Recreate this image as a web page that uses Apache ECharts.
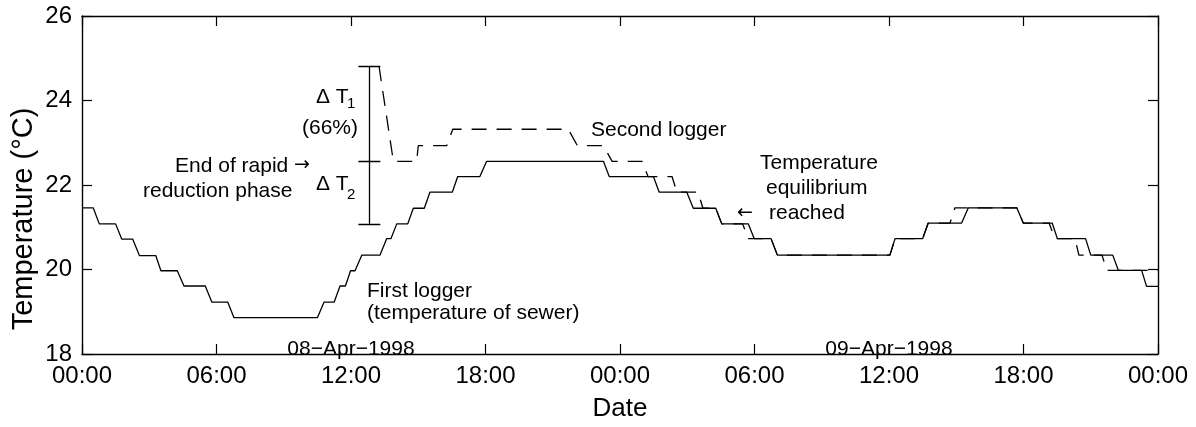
<!DOCTYPE html>
<html>
<head>
<meta charset="utf-8">
<script src="https://cdn.jsdelivr.net/npm/echarts@6/dist/echarts.min.js"></script>
<style>
  html, body { margin: 0; padding: 0; background: #fff; overflow: hidden; }
  #chart { width: 1196px; height: 427px; }
</style>
</head>
<body>
<div id="chart"></div>
<script>
// First logger (sewer temperature): hours since 08-Apr-1998 00:00, °C
const firstHours = [0, 0.50, 0.77, 1.50, 1.77, 2.26, 2.56, 3.29, 3.52, 4.25, 4.55, 5.50, 5.79, 6.50, 6.78,
  10.50, 10.80, 11.25, 11.51, 11.75, 11.98, 12.18, 12.48, 13.29, 13.59, 13.78, 14.04, 14.53, 14.78, 15.27,
  15.52, 16.52, 16.76, 17.75, 18.05, 23.26, 23.52, 25.49, 25.75, 26.98, 27.27, 28.27, 28.54, 29.72, 29.99,
  30.74, 31.02, 36.04, 36.27, 37.50, 37.75, 39.24, 39.54, 41.70, 41.99, 43.28, 43.51, 44.77, 45.00, 45.98,
  46.23, 47.27, 47.49, 48];
const firstTemps = [21.46, 21.46, 21.08, 21.08, 20.72, 20.72, 20.33, 20.33, 19.97, 19.97, 19.61, 19.61, 19.23, 19.23, 18.86,
  18.86, 19.23, 19.23, 19.61, 19.61, 19.97, 19.97, 20.34, 20.34, 20.73, 20.73, 21.08, 21.08, 21.45, 21.45,
  21.83, 21.83, 22.20, 22.20, 22.56, 22.56, 22.20, 22.20, 21.83, 21.83, 21.45, 21.45, 21.08, 21.08, 20.73,
  20.73, 20.34, 20.34, 20.73, 20.73, 21.10, 21.10, 21.46, 21.46, 21.10, 21.10, 20.73, 20.73, 20.34, 20.34,
  19.98, 19.98, 19.60, 19.60];

// Second logger: hours since 08-Apr-1998 00:00, °C
const secondHours = [13.25, 13.89, 14.93, 15.00, 16.27, 16.54, 21.69, 22.10, 23.26, 23.65, 24.98, 25.25,
  26.32, 26.54, 27.48, 27.70, 28.27, 28.54, 29.47, 29.72, 30.74, 31.02, 36.04, 36.27, 37.50, 37.75,
  38.72, 38.94, 41.70, 41.99, 43.14, 43.40, 44.30, 44.47, 45.50, 45.72, 48];
const secondTemps = [24.81, 22.56, 22.56, 22.93, 22.93, 23.32, 23.32, 22.93, 22.93, 22.56, 22.56, 22.20,
  22.20, 21.83, 21.83, 21.45, 21.45, 21.08, 21.08, 20.73, 20.73, 20.34, 20.34, 20.73, 20.73, 21.10,
  21.10, 21.46, 21.46, 21.10, 21.10, 20.73, 20.73, 20.34, 20.34, 19.98, 19.98];

// Axis ticks
const xTickHours = [0, 6, 12, 18, 24, 30, 36, 42, 48];
const xTickLabels = ['00:00', '06:00', '12:00', '18:00', '00:00', '06:00', '12:00', '18:00', '00:00'];

// Day labels, centred on midday of each day
const dayLabels = ['08\u2212Apr\u22121998', '09\u2212Apr\u22121998'];
const dayLabelHours = [12, 36];

// ΔT bracket: position (hour) and the three levels it marks (top, end of rapid reduction, sewer)
const bracketHour = 12.82;
const bracketHalfWidth = 0.49;
const bracketLevels = [24.81, 22.56, 21.08];

const FONT = '"Liberation Sans", Arial, Helvetica, sans-serif';
const ARROW_FONT = '"DejaVu Sans", sans-serif';
const INK = '#000';

const zip = (xs, ys) => xs.map((x, i) => [x, ys[i]]);

const bracketSegments = [
  { coords: [[bracketHour, bracketLevels[0]], [bracketHour, bracketLevels[2]]] }
].concat(bracketLevels.map(v => ({
  coords: [[bracketHour - bracketHalfWidth, v], [bracketHour + bracketHalfWidth, v]]
})));

const chart = echarts.init(document.getElementById('chart'), null, { renderer: 'canvas', width: 1196, height: 427 });

const axisLineStyle = { color: INK, width: 1.4 };
const tickStyle = { color: INK, width: 1.2 };

const option = {
  animation: false,
  backgroundColor: '#fff',
  grid: { left: 82, top: 16, width: 1076, height: 345, containLabel: false },
  xAxis: [{
    type: 'value', min: 0, max: 48, interval: 6,
    axisLine: { show: true, onZero: false, lineStyle: axisLineStyle },
    axisTick: { show: true, inside: true, length: 10, lineStyle: tickStyle },
    splitLine: { show: false },
    axisLabel: {
      color: INK, fontFamily: FONT, fontSize: 24, margin: 10,
      formatter: v => xTickLabels[xTickHours.indexOf(v)] || ''
    },
    name: 'Date', nameLocation: 'middle', nameGap: 42,
    nameTextStyle: { color: INK, fontFamily: FONT, fontSize: 26 }
  }, {
    type: 'value', min: 0, max: 48, interval: 6, position: 'top',
    axisLine: { show: true, onZero: false, lineStyle: axisLineStyle },
    axisTick: { show: true, inside: true, length: 10, lineStyle: tickStyle },
    axisLabel: { show: false }, splitLine: { show: false }
  }],
  yAxis: [{
    type: 'value', min: 18, max: 26, interval: 2,
    axisLine: { show: true, onZero: false, lineStyle: axisLineStyle },
    axisTick: { show: true, inside: true, length: 10, lineStyle: tickStyle },
    splitLine: { show: false },
    axisLabel: { color: INK, fontFamily: FONT, fontSize: 24, margin: 10 }
  }, {
    type: 'value', min: 18, max: 26, interval: 2, position: 'right',
    axisLine: { show: true, onZero: false, lineStyle: axisLineStyle },
    axisTick: { show: true, inside: true, length: 10, lineStyle: tickStyle },
    axisLabel: { show: false }, splitLine: { show: false }
  }],
  series: [{
    name: 'First logger', type: 'line', xAxisIndex: 0, yAxisIndex: 0,
    data: zip(firstHours, firstTemps), showSymbol: false, symbol: 'none',
    lineStyle: { color: INK, width: 1.3 }, z: 3
  }, {
    name: 'Second logger', type: 'line', xAxisIndex: 0, yAxisIndex: 0,
    data: zip(secondHours, secondTemps), showSymbol: false, symbol: 'none',
    lineStyle: { color: INK, width: 1.3, type: [15, 10] }, z: 2
  }, {
    name: 'Delta T', type: 'lines', coordinateSystem: 'cartesian2d',
    xAxisIndex: 0, yAxisIndex: 0, data: bracketSegments,
    lineStyle: { color: INK, width: 1.3, opacity: 1 }, z: 4
  }]
};
chart.setOption(option);

// Text annotations
const txt = (text, x, y, extra) => ({
  type: 'text', x, y, silent: true,
  style: Object.assign({ text, fill: INK, font: '21px ' + FONT, textAlign: 'left', textVerticalAlign: 'middle' }, extra || {})
});

const graphics = [
  // y-axis title
  {
    type: 'text', x: 24, y: 219, rotation: Math.PI / 2, silent: true,
    style: { text: 'Temperature (\u00B0C)', fill: INK, font: '29px ' + FONT, textAlign: 'center', textVerticalAlign: 'middle' }
  },
  txt('\u0394 T', 316, 97),
  txt('1', 347, 104, { font: '15px ' + FONT }),
  txt('(66%)', 302, 128),
  txt('\u0394 T', 316, 184),
  txt('2', 347, 195, { font: '15px ' + FONT }),
  txt('End of rapid', 175, 166),
  txt('\u2192', 294, 165, { font: '19px ' + ARROW_FONT }),
  txt('reduction phase', 143, 191),
  txt('Second logger', 591, 130),
  txt('Temperature', 760, 163),
  txt('equilibrium', 766, 188),
  txt('\u2190', 737, 213, { font: '19px ' + ARROW_FONT }),
  txt('reached', 769, 213),
  txt('First logger', 367, 291),
  txt('(temperature of sewer)', 367, 313)
];
dayLabels.forEach((label, i) => {
  const px = chart.convertToPixel({ xAxisIndex: 0 }, dayLabelHours[i]);
  graphics.push(txt(label, px, 349, { textAlign: 'center' }));
});
chart.setOption({ graphic: graphics });
</script>
</body>
</html>
